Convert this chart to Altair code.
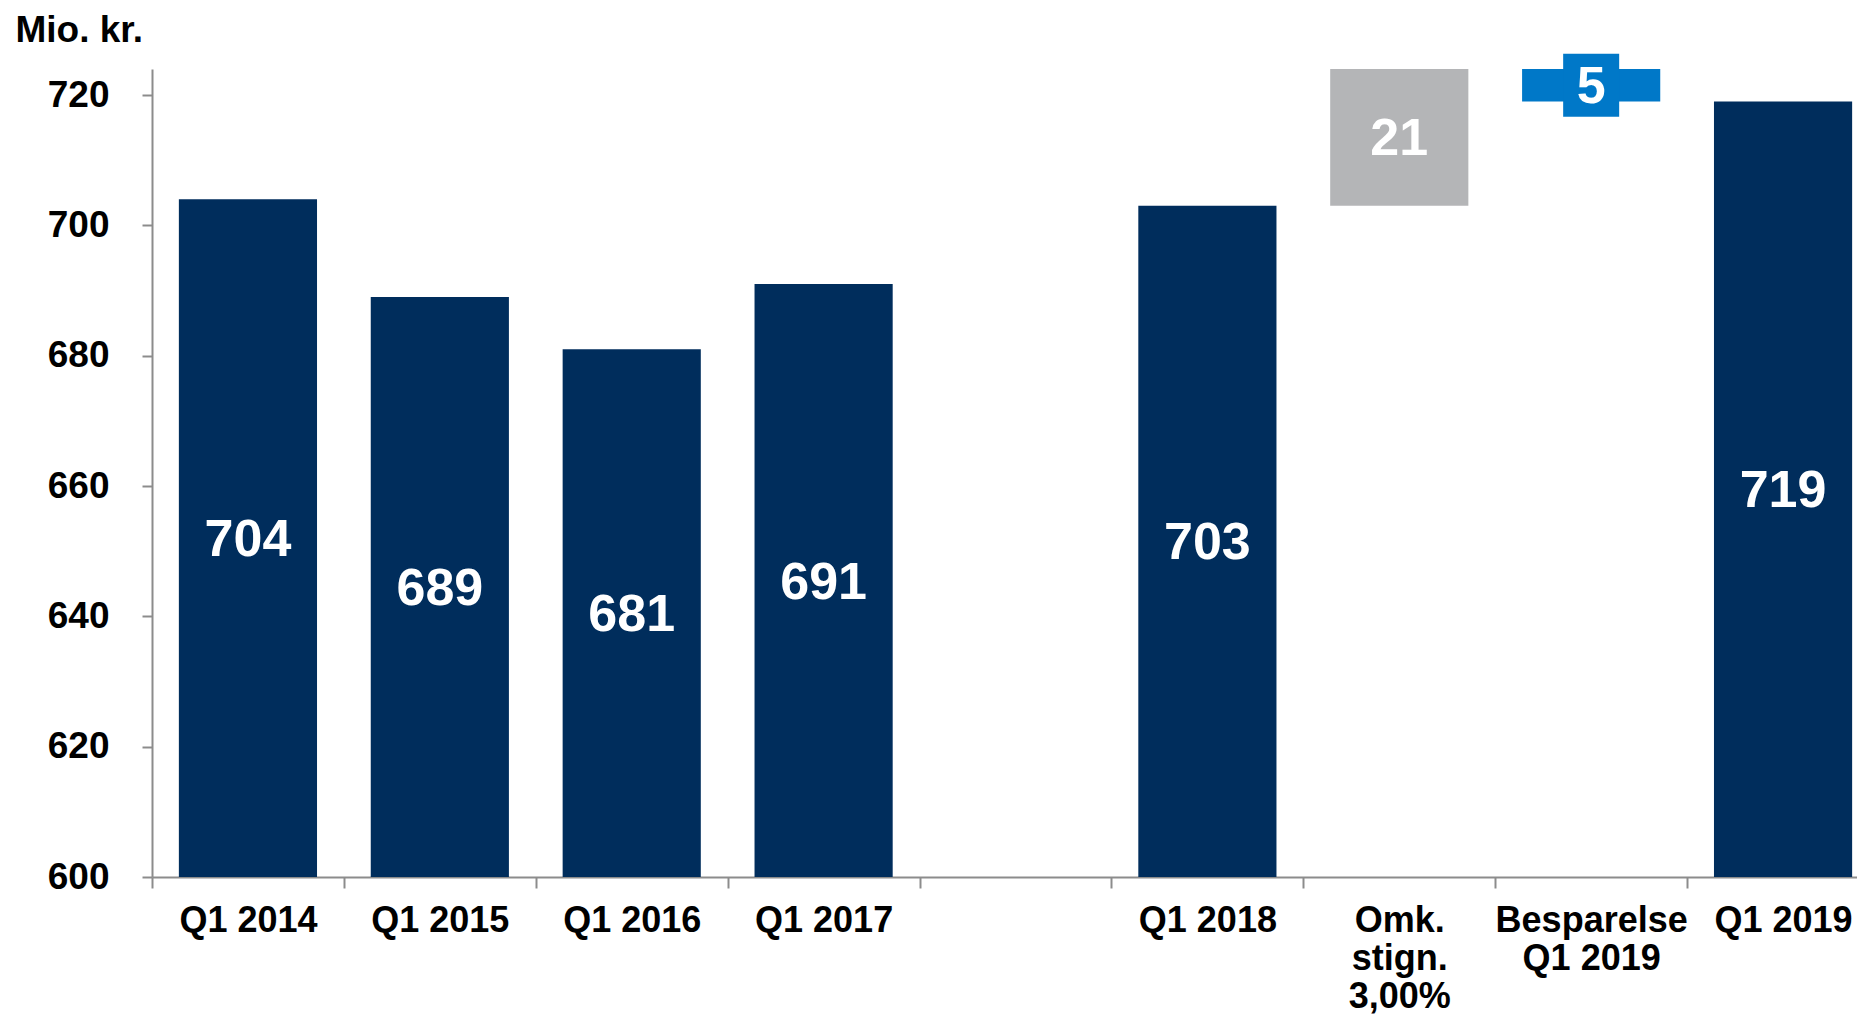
import altair as alt
import pandas as pd

# ---- data ----
categories = ["Q1 2014", "Q1 2015", "Q1 2016", "Q1 2017", "",
              "Q1 2018", "Omk.|stign.|3,00%", "Besparelse|Q1 2019", "Q1 2019"]
kinds = ["total", "total", "total", "total", None,
         "total", "up", "down", "total"]
amounts = [704, 689, 681, 691, None, 703, 21, 5, 719]
y_ticks = [600, 620, 640, 660, 680, 700, 720]
y_min, y_max = 600, 724

kind_colors = {"total": "#002D5C", "up": "#B4B5B7", "down": "#0078C8"}

# ---- build the waterfall table ----
rows = []
running = y_min
for cat, kind, amt in zip(categories, kinds, amounts):
    if kind is None:
        continue
    if kind == "total":
        start, end = y_min, amt
        running = amt
    elif kind == "up":
        start, end = running, running + amt
        running = end
    else:
        start, end = running, running - amt
        running = end
    rows.append({"cat": cat, "kind": kind, "start": start, "end": end,
                 "mid": (start + end) / 2, "label": str(amt)})
df = pd.DataFrame(rows)

FONT = "Liberation Sans"

x_enc = alt.X("cat:N", sort=categories,
              scale=alt.Scale(domain=categories, range=[0, 1727],
                              paddingInner=0, paddingOuter=0),
              axis=alt.Axis(title=None, labelAngle=0, tickBand="extent",
                            labelExpr="split(datum.label, '|')",
                            labelFont=FONT, labelFontSize=36, labelFontWeight="bold",
                            labelColor="#000000", labelBaseline="alphabetic",
                            labelLineHeight=38, labelPadding=43,
                            tickSize=11, tickColor="#8C8C8C", tickWidth=2,
                            domainColor="#8C8C8C", domainWidth=2,
                            labelOverlap=False, labelLimit=0))

y_scale = alt.Scale(domain=[y_min, y_max], nice=False, zero=False)

color_enc = alt.Color("kind:N",
                      scale=alt.Scale(domain=list(kind_colors.keys()),
                                      range=list(kind_colors.values())),
                      legend=None)

bars = alt.Chart(df).mark_bar(width=alt.RelativeBandSize(0.72)).encode(
    x=x_enc,
    y=alt.Y("end:Q", scale=y_scale,
            axis=alt.Axis(values=y_ticks, title="Mio. kr.", titleAngle=0,
                          titleX=-137, titleY=-28, titleAlign="left",
                          titleBaseline="alphabetic", titleFont=FONT,
                          titleFontSize=37, titleFontWeight="bold",
                          titleColor="#000000",
                          labelFont=FONT, labelFontSize=37, labelFontWeight="bold",
                          labelColor="#000000", labelPadding=33,
                          tickSize=10, tickColor="#8C8C8C", tickWidth=2,
                          domainColor="#8C8C8C", domainWidth=2, grid=False)),
    y2="start:Q",
    color=color_enc,
)

box = alt.Chart(df[df["kind"] == "down"]).mark_point(
    filled=True, opacity=1, strokeWidth=0,
    shape="M-0.889,-1H0.889V1H-0.889Z", size=3969,
).encode(
    x=alt.X("cat:N", sort=categories),
    y=alt.Y("mid:Q", scale=y_scale),
    color=color_enc,
)

labels = alt.Chart(df).mark_text(
    font=FONT, fontSize=52, fontWeight="bold", color="#FFFFFF",
    baseline="middle", align="center", dy=2,
).encode(
    x=alt.X("cat:N", sort=categories),
    y=alt.Y("mid:Q", scale=y_scale),
    text="label:N",
)

chart = alt.layer(bars, box, labels).properties(
    width=1705, height=808,
    background="#FFFFFF",
    autosize=alt.AutoSizeParams(type="none"),
    padding={"left": 144, "top": 61, "right": 0, "bottom": 140},
).configure_view(strokeWidth=0, stroke="transparent")

chart.save("out.html", embed_options={"renderer": "svg", "actions": False})
